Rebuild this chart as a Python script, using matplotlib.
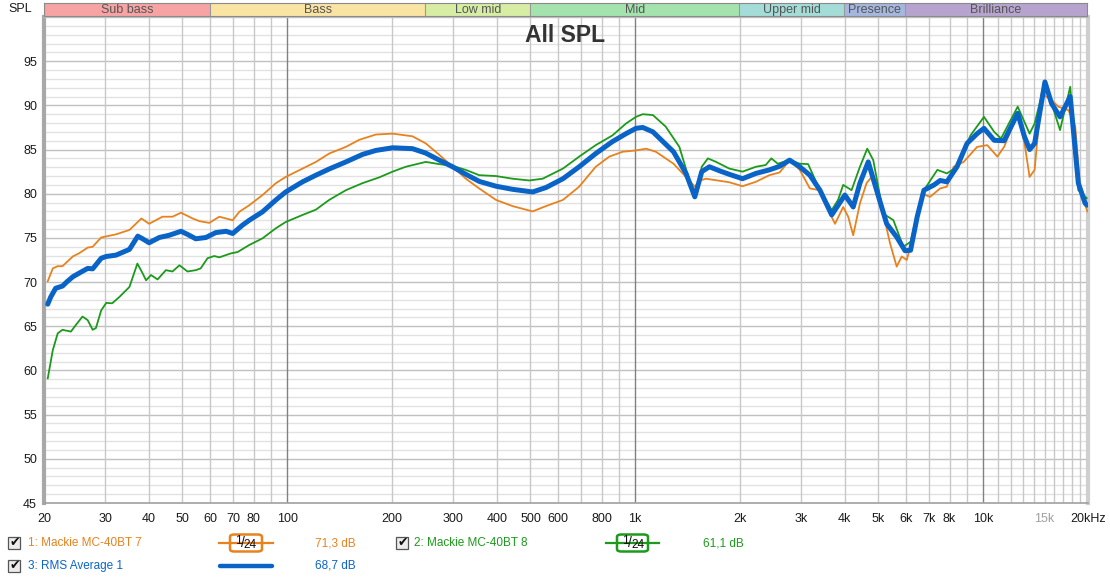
import numpy as np
import matplotlib.pyplot as plt
from matplotlib.patches import Rectangle, FancyBboxPatch
from matplotlib.lines import Line2D

plt.rcParams["font.family"] = ["Liberation Sans", "DejaVu Sans"]

W, H = 1110, 580

# frequency bands on top strip
band_names = ["Sub bass", "Bass", "Low mid", "Mid", "Upper mid", "Presence", "Brilliance"]
band_edges = [20, 60, 250, 500, 2000, 4000, 6000, 20000]
band_colors = ["#f7a3a3", "#fae4a4", "#d6eda3", "#a4e3ae", "#a4dcd8", "#a5b7de", "#b6a4ce"]

x_tick_freqs = [20, 30, 40, 50, 60, 70, 80, 100, 200, 300, 400, 500, 600, 800,
                1000, 2000, 3000, 4000, 5000, 6000, 7000, 8000, 10000, 15000, 20000]
x_tick_labels = ["20", "30", "40", "50", "60", "70", "80", "100", "200", "300", "400",
                 "500", "600", "800", "1k", "2k", "3k", "4k", "5k", "6k", "7k", "8k",
                 "10k", "15k", "20kHz"]
grid_freqs = ([20, 30, 40, 50, 60, 70, 80, 90] + [100 * k for k in range(1, 10)]
              + [1000 * k for k in range(1, 10)] + [1000 * k for k in range(10, 21)])
y_ticks = [45, 50, 55, 60, 65, 70, 75, 80, 85, 90, 95]

# 1: Mackie MC-40BT 7
f_orange = [20.5, 21.2, 21.9, 22.6, 24.2, 25.2, 26.7, 27.6, 29.2, 32.2, 35.2, 38.1, 40.1,
            43.8, 46.8, 49.5, 53.5, 55.9, 59.7, 63.8, 69.7, 72.8, 77.8, 84.9, 92.8, 99,
            110.7, 120.9, 132, 147.4, 161, 179.8, 200.8, 229, 250, 273.5, 298.6, 326, 356,
            398, 444, 507, 554, 620, 690, 770, 842, 920, 1005, 1075, 1146, 1288, 1399,
            1483, 1535, 1596, 1862, 2034, 2222, 2429, 2598, 2777, 2970, 3175, 3394, 3628,
            3751, 3959, 4092, 4230, 4422, 4621, 4777, 4938, 5162, 5396, 5641, 5831, 6028,
            6366, 6654, 7035, 7521, 7862, 8218, 8785, 9604, 10270, 10980, 11480, 12560,
            13140, 13590, 14050, 14700, 15720, 16440, 17580, 18380, 19000, 19920]
spl_orange = [70.1, 71.55, 71.8, 71.8, 72.9, 73.25, 73.9, 74.0, 75.05, 75.4, 75.9, 77.2, 76.6,
              77.4, 77.4, 77.85, 77.2, 76.9, 76.7, 77.4, 77.0, 77.95, 78.7, 79.85, 81.2, 81.9,
              82.85, 83.6, 84.55, 85.3, 86.1, 86.7, 86.8, 86.5, 85.7, 84.4, 83.05, 81.7, 80.6,
              79.3, 78.6, 78.0, 78.6, 79.3, 80.8, 83.05, 84.2, 84.75, 84.9, 85.1, 84.75, 83.4,
              81.9, 80.8, 81.5, 81.7, 81.3, 80.85, 81.35, 82.1, 82.4, 83.8, 82.7, 80.6, 80.4,
              77.75, 76.6, 78.5, 77.4, 75.3, 78.9, 81.2, 81.9, 81.2, 77.75, 74.4, 71.75, 72.9,
              72.5, 75.9, 80.0, 79.65, 80.6, 80.8, 83.05, 83.6, 85.3, 85.5, 84.2, 85.3, 89.1,
              85.7, 81.9, 82.7, 91.35, 90.6, 89.85, 89.45, 87.6, 80.4, 78.0]

# 2: Mackie MC-40BT 8
f_green = [20.5, 21.2, 21.9, 22.6, 23.9, 24.7, 25.8, 26.7, 27.6, 28.2, 29.2, 30.2, 31.4, 32.9,
           35.2, 37.1, 38.4, 39.3, 40.6, 42.4, 44.8, 46.8, 49.0, 51.7, 54.6, 56.4, 59.0, 61.7,
           63.8, 68.9, 72.0, 77.8, 84.9, 92.8, 99, 110.7, 120.9, 132, 147.4, 164.6, 183.8,
           200.8, 219, 250, 273.5, 298.6, 326, 356, 398, 444, 496, 542, 620, 690, 770, 860,
           941, 1005, 1051, 1124, 1223, 1339, 1483, 1553, 1617, 1708, 1862, 2034, 2222, 2371,
           2461, 2567, 2777, 2970, 3139, 3394, 3669, 3827, 3959, 4184, 4422, 4642, 4830, 5162,
           5519, 5894, 6181, 6461, 6754, 7381, 7862, 8405, 9190, 10050, 10750, 11250, 12560,
           13590, 14050, 15040, 16620, 17780, 18760, 19830]
spl_green = [59.1, 62.3, 64.2, 64.6, 64.4, 65.15, 66.1, 65.7, 64.6, 64.8, 66.8, 67.65, 67.6, 68.3,
             69.45, 72.1, 71.0, 70.2, 70.8, 70.3, 71.35, 71.2, 71.9, 71.2, 71.35, 71.55, 72.7, 72.95,
             72.8, 73.25, 73.4, 74.2, 74.95, 76.1, 76.8, 77.6, 78.2, 79.3, 80.4, 81.2, 81.85,
             82.5, 83.05, 83.6, 83.35, 83.15, 82.7, 82.1, 82.0, 81.7, 81.5, 81.7, 82.85, 84.2, 85.5,
             86.6, 87.95, 88.7, 89.0, 88.9, 87.6, 85.3, 79.5, 83.05, 84.0, 83.6, 82.85, 82.5, 83.05,
             83.25, 84.0, 83.4, 83.8, 83.4, 83.35, 80.4, 78.15, 79.3, 81.0, 80.4, 83.05, 85.1, 83.8,
             77.75, 77.0, 74.0, 74.55, 77.75, 80.4, 82.7, 82.3, 83.05, 86.6, 88.7, 87.0, 86.25,
             89.85, 86.8, 87.95, 92.65, 87.2, 92.1, 80.4, 79.5]

# 3: RMS Average 1
f_blue = [20.5, 20.9, 21.6, 22.6, 23.3, 24.2, 25.2, 26.7, 27.6, 29.2, 30.2, 32.2, 35.2, 37.2,
          38.4, 40.1, 42.9, 45.8, 49.5, 51.7, 54.6, 58.4, 62.3, 66.7, 69.7, 74.4, 77.8, 84.9,
          92.8, 99, 110.7, 120.9, 132, 147.4, 164.6, 179.8, 200.8, 229, 250, 273.5, 298.6, 326,
          356, 398, 444, 507, 554, 620, 690, 770, 860, 941, 1005, 1051, 1124, 1288, 1399, 1483,
          1553, 1634, 1745, 1862, 2034, 2222, 2429, 2598, 2777, 2970, 3175, 3394, 3669, 4003,
          4230, 4422, 4672, 4938, 5278, 5641, 5961, 6181, 6461, 6754, 7224, 7521, 7862, 8405,
          8986, 9604, 10050, 10750, 11480, 12560, 13140, 13590, 14050, 15040, 15720, 16620,
          17780, 18760, 19630, 19900]
spl_blue = [67.5, 68.3, 69.3, 69.55, 70.05, 70.6, 71.0, 71.55, 71.5, 72.7, 72.9, 73.05, 73.7, 75.2,
            74.9, 74.45, 75.05, 75.3, 75.75, 75.4, 74.9, 75.05, 75.6, 75.75, 75.5, 76.45, 77.0, 77.95,
            79.3, 80.2, 81.35, 82.1, 82.8, 83.6, 84.45, 84.9, 85.2, 85.1, 84.6, 83.8, 83.05, 82.2,
            81.4, 80.85, 80.5, 80.2, 80.7, 81.7, 83.05, 84.55, 85.9, 86.8, 87.4, 87.5, 87.0, 84.75,
            82.3, 79.65, 82.5, 83.05, 82.6, 82.2, 81.7, 82.3, 82.7, 83.1, 83.8, 83.05, 82.1, 80.4,
            77.6, 79.85, 78.5, 81.2, 83.6, 80.4, 76.6, 75.1, 73.55, 73.6, 77.4, 80.4, 81.0, 81.5,
            81.35, 83.05, 85.7, 86.8, 87.4, 86.05, 86.0, 89.1, 86.45, 85.0, 85.7, 92.65, 90.2, 88.7,
            91.0, 81.2, 78.9, 78.7]

c_orange = "#e8821e"
c_green = "#1c9a1c"
c_blue = "#0a64c8"


def fx(px):
    return px / W


def fy(py):
    return 1 - py / H


fig = plt.figure(figsize=(W / 100, H / 100), dpi=100)
fig.patch.set_facecolor("white")

ax = fig.add_axes([fx(44), fy(503), (1088 - 44) / W, (503 - 17) / H])
ax.set_xscale("log")
ax.set_xlim(20, 20000)
ax.set_ylim(45, 100)

# grid
for f in grid_freqs:
    col = "#808080" if f in (100, 1000, 10000) else "#c8c8c8"
    ax.axvline(f, color=col, lw=1.0, zorder=1)
for v in range(46, 100):
    col = "#c0c0c0" if v % 5 == 0 else "#e2e2e2"
    ax.axhline(v, color=col, lw=1.0, zorder=0.5)

ax.plot(f_orange, spl_orange, color=c_orange, lw=1.3, zorder=3)
ax.plot(f_green, spl_green, color=c_green, lw=1.3, zorder=3)
ax.plot(f_blue, spl_blue, color=c_blue, lw=3.6, zorder=4, solid_capstyle="round")

ax.set_xticks(x_tick_freqs)
ax.set_xticklabels(x_tick_labels)
ax.xaxis.set_minor_locator(plt.NullLocator())
ax.set_yticks(y_ticks)
ax.tick_params(axis="both", length=0, labelsize=9, colors="#1a1a1a")
ax.tick_params(axis="x", pad=7)
ax.tick_params(axis="y", pad=5)
for lbl in ax.get_xticklabels():
    if lbl.get_text() == "15k":
        lbl.set_color("#a0a0a0")

ax.spines["left"].set_color("#a8a8a8")
ax.spines["left"].set_linewidth(3)
ax.spines["right"].set_color("#cfcfcf")
ax.spines["right"].set_linewidth(3)
ax.spines["bottom"].set_color("#a0a0a0")
ax.spines["bottom"].set_linewidth(1.2)
ax.spines["top"].set_color("#c0c0c0")
ax.spines["top"].set_linewidth(1)

fig.text(fx(565), fy(36), "All SPL", ha="center", va="center",
         fontsize=16.5, fontweight="bold", color="#333333", zorder=6)

# band strip
bx = fig.add_axes([fx(44), fy(16), (1087 - 44) / W, 13 / H])
bx.set_xscale("log")
bx.set_xlim(20, 20000)
bx.set_ylim(0, 1)
for i, name in enumerate(band_names):
    lo, hi = band_edges[i], band_edges[i + 1]
    bx.axvspan(lo, hi, color=band_colors[i], lw=0)
    bx.axvline(lo, color="#9a9a9a", lw=0.8)
    bx.text(np.sqrt(lo * hi), 0.45, name, ha="center", va="center", fontsize=9, color="#555555")
bx.set_xticks([])
bx.set_yticks([])
bx.minorticks_off()
for s in bx.spines.values():
    s.set_color("#8a8a8a")
    s.set_linewidth(0.8)

fig.text(fx(20), fy(8.5), "SPL", ha="center", va="center", fontsize=9, color="#1a1a1a")


# legend
def checkbox(px, py):
    fig.add_artist(Rectangle((fx(px), fy(py + 12)), 12 / W, 12 / H, transform=fig.transFigure,
                             facecolor="#ececec", edgecolor="#555555", lw=0.9))
    fig.text(fx(px + 6.5), fy(py + 5.5), "\u2714", ha="center", va="center", fontsize=9,
             color="#111111", family="DejaVu Sans")


def smooth_sample(x0, x1, bx0, bx1, py, col):
    fig.add_artist(Line2D([fx(x0), fx(x1)], [fy(py), fy(py)], transform=fig.transFigure,
                          color=col, lw=1.6))
    fig.add_artist(FancyBboxPatch((fx(bx0), fy(py + 8.5)), (bx1 - bx0) / W, 17 / H,
                                  boxstyle="round,pad=0,rounding_size=0.004",
                                  transform=fig.transFigure, facecolor="white",
                                  edgecolor=col, lw=1.8))
    fig.text(fx(bx0 + 8), fy(py - 2.5), "1", ha="center", va="center", fontsize=8.5, color="#111111")
    fig.text(fx(bx0 + 12.5), fy(py), "/", ha="center", va="center", fontsize=10, color="#111111")
    fig.text(fx(bx0 + 20.5), fy(py + 2.5), "24", ha="center", va="center", fontsize=8.5,
             color="#111111")


row1, row2 = 543, 566
checkbox(8, row1 - 6)
fig.text(fx(28), fy(row1), "1: Mackie MC-40BT 7", ha="left", va="center", fontsize=8.5, color=c_orange)
smooth_sample(219, 273, 230, 262, row1, c_orange)
fig.text(fx(315), fy(row1), "71,3 dB", ha="left", va="center", fontsize=8.5, color=c_orange)

checkbox(396, row1 - 6)
fig.text(fx(414), fy(row1), "2: Mackie MC-40BT 8", ha="left", va="center", fontsize=8.5, color=c_green)
smooth_sample(606, 659, 617, 648, row1, c_green)
fig.text(fx(703), fy(row1), "61,1 dB", ha="left", va="center", fontsize=8.5, color=c_green)

checkbox(8, row2 - 6)
fig.text(fx(28), fy(row2), "3: RMS Average 1", ha="left", va="center", fontsize=8.5, color=c_blue)
fig.add_artist(Line2D([fx(220), fx(272)], [fy(row2), fy(row2)], transform=fig.transFigure,
                      color=c_blue, lw=3.2, solid_capstyle="round"))
fig.text(fx(315), fy(row2), "68,7 dB", ha="left", va="center", fontsize=8.5, color=c_blue)

fig.savefig("out.png", dpi=100)
